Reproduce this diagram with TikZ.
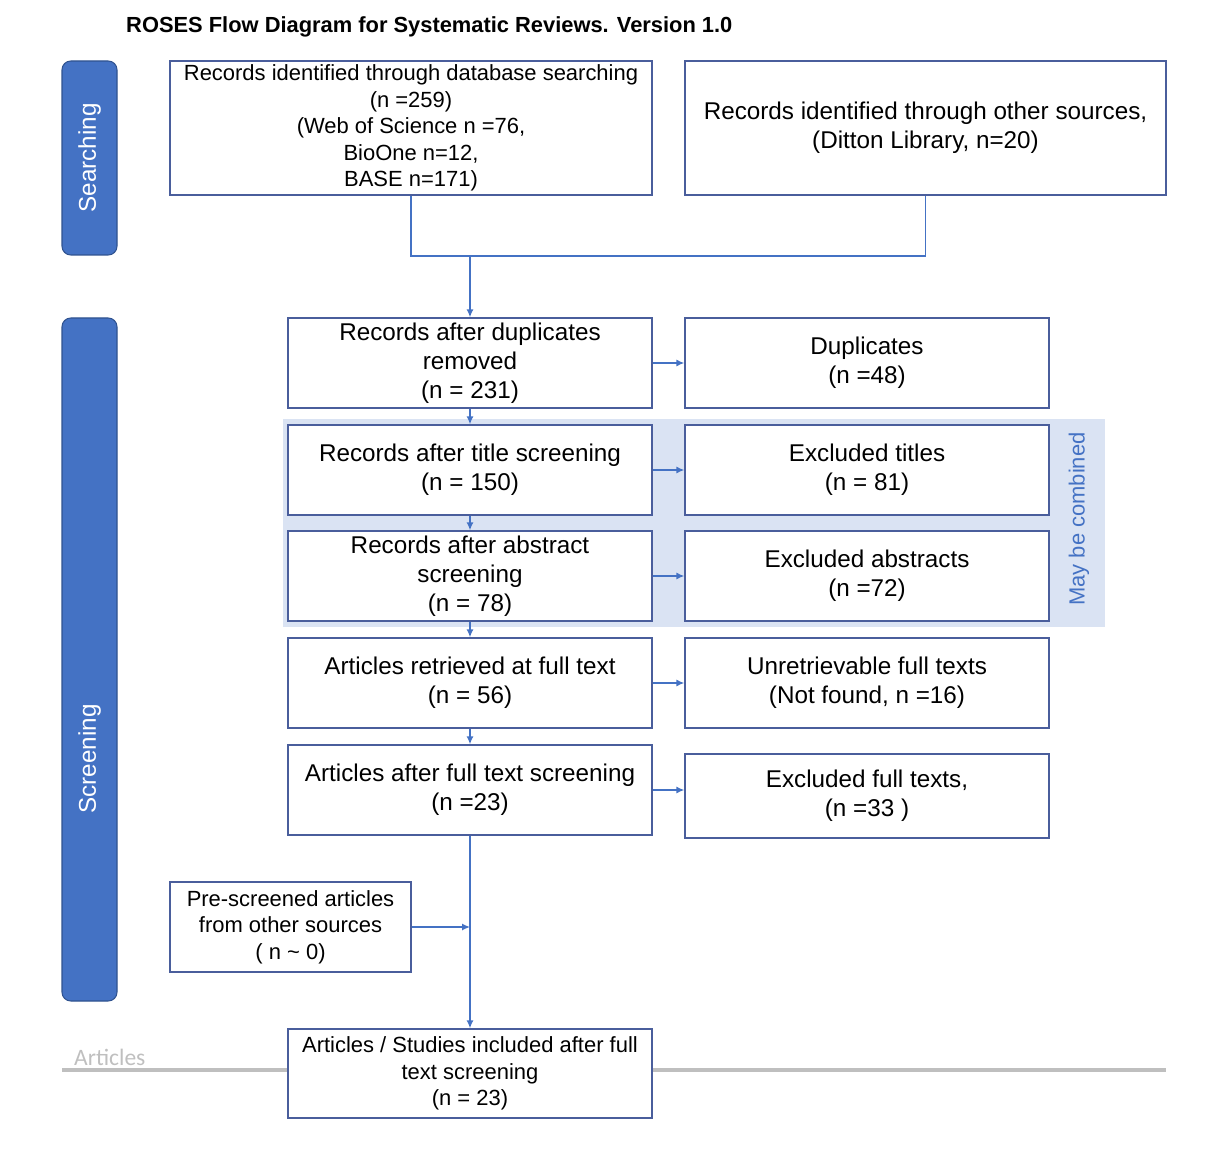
\documentclass[tikz,border=0pt]{standalone}
\usepackage{fontspec}
\setmainfont{Liberation Sans}
\newfontfamily\graylabelfont{Carlito}
\usetikzlibrary{arrows.meta}
\definecolor{boxline}{HTML}{4A5E9C}
\definecolor{flowline}{HTML}{4472C4}
\definecolor{barfill}{HTML}{4472C4}
\definecolor{barline}{HTML}{2F528F}
\definecolor{combinedfill}{HTML}{DAE3F3}
\definecolor{rulegray}{HTML}{BFBFBF}
\tikzset{
  box/.style={draw=boxline, fill=white, line width=0.85pt, align=center, inner sep=0pt,
    minimum width=7.28cm, minimum height=1.8cm, font=\fontsize{13.8}{16.4}\selectfont},
  smallbox/.style={box, font=\fontsize{12.5}{15}\selectfont},
  bar/.style={draw=barline, fill=barfill, line width=0.6pt, rounded corners=5pt},
  link/.style={draw=flowline, line width=0.75pt},
  arrow/.style={link, -{Latex[length=4.5pt,width=4pt]}}
}
\begin{document}
\begin{tikzpicture}[x=0.02cm,y=-0.02cm]
    \useasboundingbox (0,0) rectangle (1218,1162);
    \node[anchor=west, font=\fontsize{12.45}{15}\selectfont\bfseries] (heading) at (120,27) {ROSES Flow Diagram for Systematic Reviews. Version 1.0};
    % Phasen links
    \draw[bar] (62,61) rectangle (117,255);
    \draw[bar] (62,318) rectangle (117,1001);
    \node[rotate=90, text=white, font=\fontsize{13.8}{16.4}\selectfont] (searching) at (89.5,158) {Searching};
    \node[rotate=90, text=white, font=\fontsize{13.8}{16.4}\selectfont] (screening) at (89.5,759) {Screening};
    % Hintergrund
    \fill[combinedfill] (283,419) rectangle (1105,627);
    \node[rotate=90, text=flowline, font=\fontsize{12.5}{15}\selectfont] (combined) at (1079,519) {May be combined};
    \draw[rulegray, line width=1.8pt] (62,1070) -- (1166,1070);
    \node[anchor=base west, text=rulegray, font=\graylabelfont\fontsize{13.4}{16}\selectfont] (articles) at (68,1065) {Articles};
    % Kaesten
    \node[smallbox, minimum width=9.64cm, minimum height=2.68cm] (db) at (411,128)
        {Records identified through database searching\\(n =259)\\(Web of Science n =76,\\BioOne n=12,\\BASE n=171)};
    \node[box, minimum width=9.62cm, minimum height=2.68cm] (other) at (925.5,128)
        {Records identified through other sources,\\(Ditton Library, n=20)};
    \node[box] (dup) at (470,363) {Records after duplicates\\removed\\(n = 231)};
    \node[box] (dupx) at (867,363) {Duplicates\\(n =48)};
    \node[box] (title) at (470,470) {Records after title screening\\(n = 150)};
    \node[box] (titlex) at (867,470) {Excluded titles\\(n = 81)};
    \node[box] (abstract) at (470,576) {Records after abstract\\screening\\(n = 78)};
    \node[box] (abstractx) at (867,576) {Excluded abstracts\\(n =72)};
    \node[box] (retrieved) at (470,683) {Articles retrieved at full text\\(n = 56)};
    \node[box] (retrievedx) at (867,683) {Unretrievable full texts\\(Not found, n =16)};
    \node[box] (fulltext) at (470,790) {Articles after full text screening\\(n =23)};
    \node[box, minimum height=1.68cm] (fulltextx) at (867,796) {Excluded full texts,\\(n =33 )};
    \node[smallbox, minimum width=4.82cm] (prescreen) at (290.5,927) {Pre-screened articles\\from other sources\\( n \textasciitilde{} 0)};
    \node[smallbox, minimum height=1.78cm] (included) at (470,1073.5) {Articles / Studies included after full\\text screening\\(n = 23)};
    % Verbindungen
    \coordinate (join) at (470,256);
    \draw[link] (db.south) |- (join) -| (other.south);
    \draw[arrow] (join) -- (dup.north);
    \draw[arrow] (dup) -- (title);
    \draw[arrow] (title) -- (abstract);
    \draw[arrow] (abstract) -- (retrieved);
    \draw[arrow] (retrieved) -- (fulltext);
    \draw[arrow] (fulltext) -- (included);
    \draw[arrow] (dup.east) -- (dupx.west);
    \draw[arrow] (title.east) -- (titlex.west);
    \draw[arrow] (abstract.east) -- (abstractx.west);
    \draw[arrow] (retrieved.east) -- (retrievedx.west);
    \draw[arrow] (fulltext.east) -- (fulltext.east -| fulltextx.west);
    \draw[arrow] (prescreen.east) -- (prescreen.east -| fulltext.south);
\end{tikzpicture}
\end{document}
